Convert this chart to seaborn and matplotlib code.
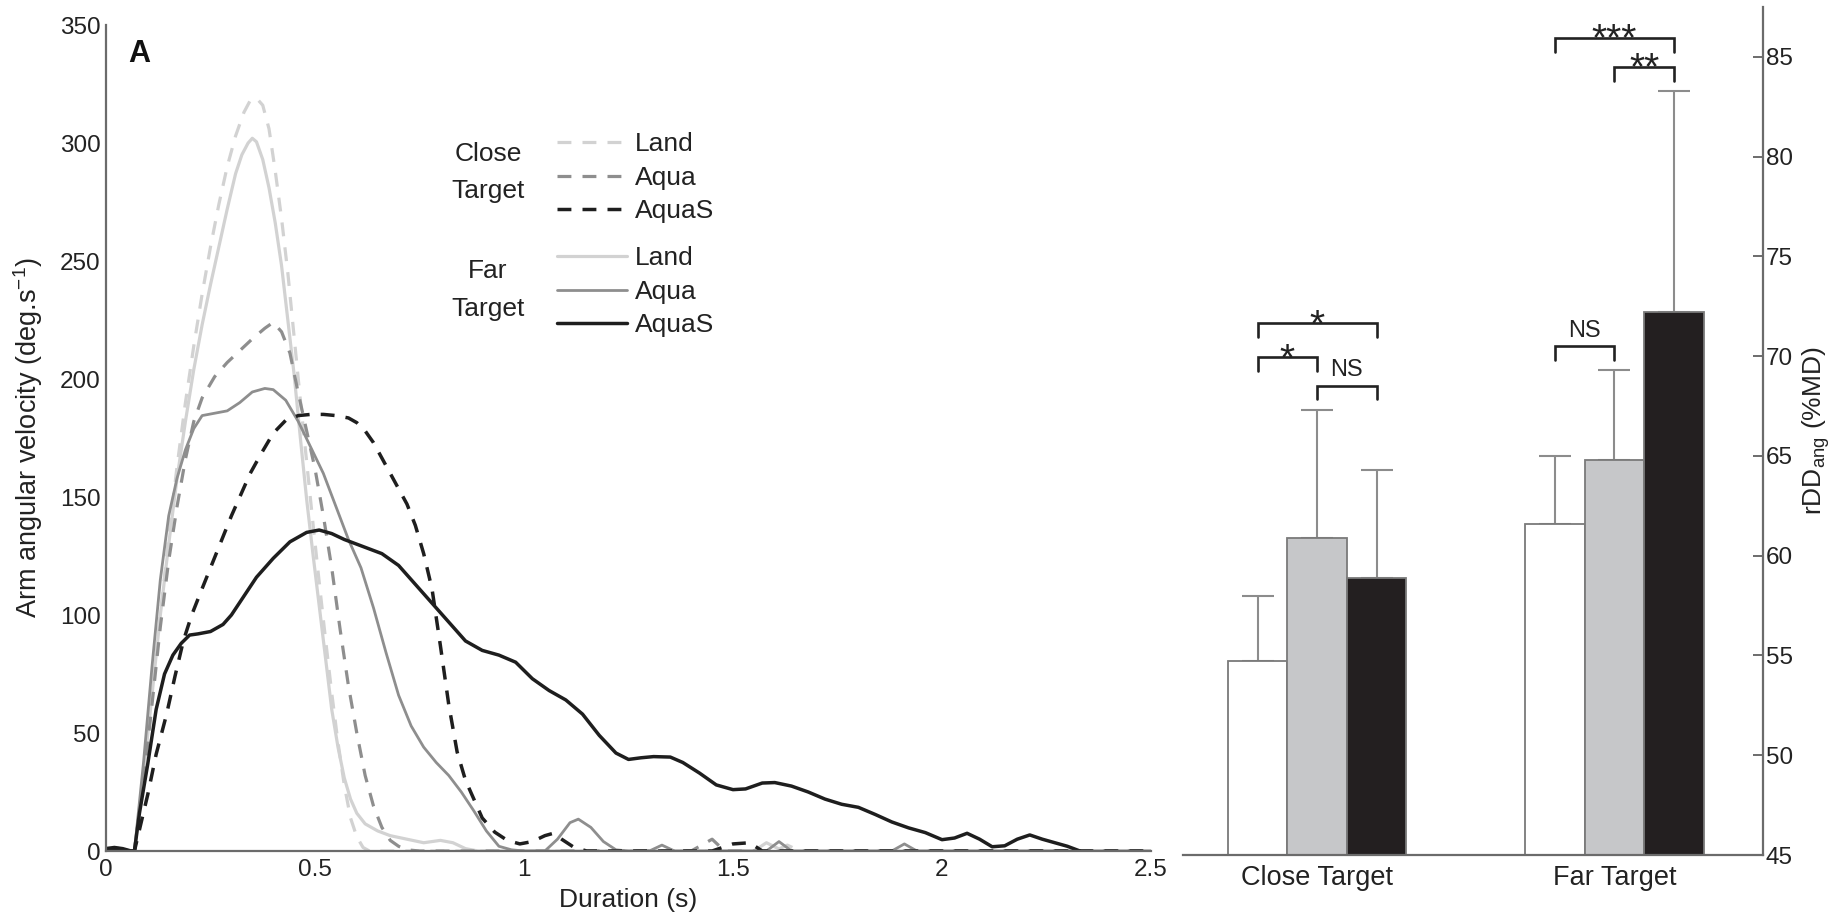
import matplotlib
matplotlib.use("Agg")
import matplotlib.pyplot as plt
import numpy as np
import pandas as pd
import seaborn as sns

# ---------------- Arm angular velocity profiles (s, deg/s) ----------------
close_land_t = [0, 0.03, 0.06, 0.068, 0.09, 0.11, 0.13, 0.15, 0.17, 0.19, 0.21, 0.23, 0.25,
                0.27, 0.29, 0.31, 0.33, 0.345, 0.36, 0.375, 0.39, 0.405, 0.42, 0.435, 0.45,
                0.465, 0.48, 0.495, 0.51, 0.525, 0.54, 0.555, 0.57, 0.585, 0.60, 0.615, 0.63,
                1.60, 1.63, 1.66, 2.5]
close_land_v = [1, 1, 0, 0, 32, 65, 100, 133, 163, 190, 214, 236, 256,
                274, 290, 303, 313, 318, 319, 316, 306, 288, 268, 245, 218,
                191, 165, 139, 114, 90, 67, 46, 28, 14, 6, 1.5, 0,
                0, 2.5, 0, 0]

far_land_t = [0, 0.03, 0.06, 0.068, 0.09, 0.11, 0.13, 0.15, 0.17, 0.19, 0.21, 0.23, 0.25,
              0.27, 0.29, 0.31, 0.325, 0.34, 0.35, 0.36, 0.375, 0.39, 0.405, 0.42, 0.435,
              0.45, 0.465, 0.48, 0.495, 0.51, 0.525, 0.54, 0.555, 0.57, 0.585, 0.60, 0.62,
              0.65, 0.68, 0.72, 0.76, 0.80, 0.83, 0.86, 0.89, 1.55, 1.58, 1.62, 2.5]
far_land_v = [1, 1, 0, 0, 33, 66, 100, 130, 158, 182, 204, 223, 240,
              256, 272, 287, 295, 300, 302, 300.5, 293, 281, 266, 248, 225,
              202, 175, 149, 126, 104, 82, 60, 44, 31, 22, 16, 11.5,
              8.5, 6.5, 5, 3.5, 4.5, 3.5, 1, 0, 0, 3.5, 0, 0]

close_aqua_t = [0, 0.03, 0.06, 0.068, 0.09, 0.11, 0.13, 0.15, 0.17, 0.19, 0.21, 0.23, 0.26,
                0.29, 0.32, 0.35, 0.38, 0.40, 0.42, 0.44, 0.46, 0.48, 0.50, 0.52, 0.54,
                0.56, 0.58, 0.60, 0.62, 0.64, 0.66, 0.68, 0.70, 0.72, 0.75, 1.40, 1.45,
                1.48, 2.5]
close_aqua_v = [1, 1, 0, 0, 30, 62, 95, 123, 146, 166, 182, 192, 201,
                207, 212, 217, 221.5, 224, 220, 211, 194, 178, 162, 142, 120,
                94, 70, 50, 32, 19, 10, 4.5, 2, 0.5, 0, 0, 5,
                0, 0]

far_aqua_t = [0, 0.03, 0.06, 0.068, 0.09, 0.11, 0.13, 0.15, 0.17, 0.19, 0.21, 0.23, 0.26,
              0.29, 0.32, 0.35, 0.38, 0.40, 0.43, 0.46, 0.49, 0.52, 0.55, 0.58, 0.61,
              0.64, 0.67, 0.70, 0.73, 0.76, 0.79, 0.82, 0.85, 0.88, 0.91, 0.94, 0.97,
              1.00, 1.05, 1.08, 1.11, 1.13, 1.16, 1.19, 1.22, 1.25, 1.30, 1.33, 1.36,
              1.58, 1.61, 1.64, 1.88, 1.91, 1.94, 2.5]
far_aqua_v = [1, 1, 0, 0, 38, 78, 115, 142, 158, 170, 179, 184.5, 185.5,
              186.5, 190, 194.5, 196, 195.5, 191, 182, 171, 160, 146, 132, 120,
              103, 84, 66, 53, 44, 37.5, 32, 25, 17, 8.5, 2, 0.5,
              0, 0, 5, 12, 13.5, 10, 4, 0.5, 0, 0, 2.5, 0,
              0, 4, 0, 0, 3, 0, 0]

close_aquas_t = [0, 0.03, 0.06, 0.068, 0.08, 0.10, 0.12, 0.145, 0.165, 0.185, 0.205, 0.225,
                 0.25, 0.275, 0.30, 0.32, 0.345, 0.37, 0.40, 0.43, 0.46, 0.49, 0.52, 0.55,
                 0.58, 0.60, 0.62, 0.64, 0.66, 0.68, 0.70, 0.72, 0.74, 0.76, 0.78, 0.80,
                 0.82, 0.84, 0.86, 0.88, 0.90, 0.93, 0.96, 0.99, 1.02, 1.05, 1.07, 1.09,
                 1.12, 1.15, 1.45, 1.50, 1.54, 1.57, 2.5]
close_aquas_v = [1, 1, 0, 0, 9, 24, 41, 58, 74, 89, 100, 109,
                 120, 131, 142, 150, 160, 168, 177, 182.5, 184.5, 185, 185, 184.5,
                 183.5, 181.5, 178, 173, 166.5, 160, 153.5, 147, 138, 126, 111, 87,
                 62, 42, 30, 22, 14, 8, 4.5, 3, 4, 6.5, 7.5, 5,
                 1.5, 0, 0, 3, 3.5, 0, 0]

far_aquas_t = [0, 0.02, 0.04, 0.06, 0.068, 0.08, 0.10, 0.12, 0.14, 0.16, 0.18, 0.20, 0.22,
               0.25, 0.28, 0.30, 0.33, 0.36, 0.40, 0.44, 0.48, 0.51, 0.54, 0.57, 0.60,
               0.63, 0.66, 0.70, 0.74, 0.78, 0.82, 0.86, 0.90, 0.94, 0.98, 1.02, 1.06,
               1.10, 1.14, 1.18, 1.22, 1.25, 1.28, 1.31, 1.35, 1.38, 1.42, 1.46, 1.50,
               1.53, 1.57, 1.60, 1.64, 1.68, 1.72, 1.76, 1.80, 1.84, 1.88, 1.92, 1.96,
               2.00, 2.03, 2.06, 2.09, 2.12, 2.15, 2.18, 2.21, 2.24, 2.27, 2.30, 2.33]
far_aquas_v = [1, 1.5, 1, 0, 0, 16, 37, 60, 75, 83, 88, 91.5, 92,
               93, 96, 100, 108, 116, 124, 131, 135, 136, 134.5, 132, 130,
               128, 126, 121, 113, 105, 97, 89, 85, 83, 80, 73, 68,
               64, 58, 49, 41.5, 38.8, 39.5, 40, 39.8, 37.5, 33, 28, 26,
               26.3, 28.8, 29, 27.5, 25, 22, 19.8, 18.5, 15.5, 12.3, 9.8, 7.8,
               4.8, 5.5, 7.5, 5, 1.8, 2.2, 5, 6.8, 5, 3.5, 2, 0]

conditions = ["Land", "Aqua", "AquaS"]
targets = ["Close Target", "Far Target"]

# ---------------- rDD_ang bars (%MD), mean and upper SD ----------------
close_means = [54.7, 60.9, 58.9]
close_sd = [3.3, 6.4, 5.4]
far_means = [61.6, 64.8, 72.2]
far_sd = [3.4, 4.5, 11.1]

# significance brackets: (target index, condition a, condition b, level, label)
brackets = [
    (0, 0, 2, 71.64, "*"),
    (0, 0, 1, 69.94, "*"),
    (0, 1, 2, 68.53, "NS"),
    (1, 0, 1, 70.49, "NS"),
    (1, 0, 2, 85.94, "***"),
    (1, 1, 2, 84.49, "**"),
]

# ---------------- style ----------------
sns.set_style("white")
plt.rcParams.update({
    "font.family": ["Liberation Sans", "DejaVu Sans"],
    "lines.scale_dashes": False,
    "text.color": "#222222",
    "axes.labelcolor": "#222222",
    "xtick.color": "#6b6b6b",
    "ytick.color": "#6b6b6b",
    "xtick.labelcolor": "#222222",
    "ytick.labelcolor": "#222222",
})

LIGHT, MID, DARK = "#d2d2d2", "#8e8e8e", "#1e1e1e"
DASH = (0, (10, 8))
SPINE = "#6b6b6b"

W, H = 1833, 914
fig = plt.figure(figsize=(W / 100, H / 100), dpi=100)
ax = fig.add_axes([106 / W, 63 / H, 1045 / W, 826 / H])
ax2 = fig.add_axes([1183 / W, 59 / H, 580 / W, 848 / H])

# ---------------- left panel: velocity profiles ----------------
series = [
    (close_land_t, close_land_v, LIGHT, DASH, 2.3),
    (far_land_t, far_land_v, LIGHT, "-", 2.3),
    (close_aqua_t, close_aqua_v, MID, DASH, 2.3),
    (far_aqua_t, far_aqua_v, MID, "-", 2.0),
    (close_aquas_t, close_aquas_v, DARK, DASH, 2.5),
    (far_aquas_t, far_aquas_v, DARK, "-", 2.5),
]
handles = []
for t, v, col, ls, lw in series:
    sns.lineplot(x=t, y=v, ax=ax, color=col, linestyle=ls, linewidth=lw,
                 estimator=None, sort=False)
    handles.append(ax.lines[-1])

ax.set_xlim(0, 2.5)
ax.set_ylim(0, 350)
ax.set_xticks(np.arange(0, 2.51, 0.5))
ax.set_xticklabels(["0", "0.5", "1", "1.5", "2", "2.5"])
ax.set_yticks(np.arange(0, 351, 50))
for s in ["top", "right"]:
    ax.spines[s].set_visible(False)
for s in ["left", "bottom"]:
    ax.spines[s].set_color(SPINE)
    ax.spines[s].set_linewidth(1.6)
ax.tick_params(axis="both", direction="in", length=7, width=1.4, labelsize=17.5)
ax.tick_params(axis="x", pad=6)
ax.tick_params(axis="y", pad=4)
ax.set_xlabel("Duration (s)", fontsize=19, labelpad=5)
ax.set_ylabel(r"Arm angular velocity (deg.s$^{\mathregular{-1}}$)", fontsize=19.5)
ax.yaxis.set_label_coords(-0.058, 0.5)

ax.text(0.021, 0.955, "A", transform=ax.transAxes, fontsize=22, fontweight="bold",
        ha="left", va="baseline", color="#111111")

leg_kw = dict(loc="upper left", frameon=False, fontsize=19, handlelength=2.65,
              handletextpad=0.3, labelspacing=0.36, borderpad=0, borderaxespad=0)
leg1 = ax.legend(handles=handles[0::2], labels=conditions, bbox_to_anchor=(0.4316, 0.870), **leg_kw)
ax.add_artist(leg1)
ax.legend(handles=handles[1::2], labels=conditions, bbox_to_anchor=(0.4316, 0.732), **leg_kw)
ax.text(0.3656, 0.8214, "Close\nTarget", transform=ax.transAxes, fontsize=19,
        ha="center", va="center", linespacing=1.7)
ax.text(0.3656, 0.679, "Far\nTarget", transform=ax.transAxes, fontsize=19,
        ha="center", va="center", linespacing=1.7)

# ---------------- right panel: rDD_ang bars ----------------
df = pd.DataFrame({
    "target": np.repeat(targets, len(conditions)),
    "condition": conditions * len(targets),
    "value": close_means + far_means,
    "sd": close_sd + far_sd,
})
bar_colors = {"Land": "#ffffff", "Aqua": "#c6c7c9", "AquaS": "#231f20"}
sns.barplot(data=df, x="target", y="value", hue="condition", order=targets,
            hue_order=conditions, palette=bar_colors, saturation=1, width=0.6,
            edgecolor="#7a7a7a", linewidth=1.3, errorbar=None, legend=False, ax=ax2)

bars = sorted([p for p in ax2.patches], key=lambda p: p.get_x())
centers = [p.get_x() + p.get_width() / 2 for p in bars]
tops = [p.get_y() + p.get_height() for p in bars]
ax2.errorbar(centers, tops, yerr=[np.zeros(len(tops)), df["sd"].values], fmt="none",
             ecolor="#8c8c8c", elinewidth=1.5, capsize=11.5, capthick=1.5, zorder=0.8)

leg_drop = 0.7
for ti, a, b, lvl, lab in brackets:
    xa, xb = centers[ti * 3 + a], centers[ti * 3 + b]
    ax2.plot([xa, xa, xb, xb], [lvl - leg_drop, lvl, lvl, lvl - leg_drop],
             color="#222222", lw=1.9, solid_joinstyle="miter", clip_on=False)
    xm = (xa + xb) / 2
    if lab == "NS":
        ax2.annotate(lab, (xm, lvl), xytext=(0, 6.5), textcoords="offset points",
                     ha="center", va="baseline", fontsize=17, annotation_clip=False)
    else:
        ax2.annotate(lab, (xm, lvl), xytext=(0, -9), textcoords="offset points",
                     ha="center", va="baseline", fontsize=28, annotation_clip=False)

ax2.set_xlim(-0.451, 1.5)
ax2.set_ylim(45, 87.5)
ax2.set_axisbelow(True)
ax2.set_xticks([0, 0.5, 1])
ax2.set_xticklabels(["Close Target", "", "Far Target"], fontsize=19.5)
ax2.set_xlabel("")
ax2.yaxis.tick_right()
ax2.yaxis.set_label_position("right")
ax2.set_yticks(np.arange(45, 86, 5))
for s in ["top", "left"]:
    ax2.spines[s].set_visible(False)
for s in ["right", "bottom"]:
    ax2.spines[s].set_color(SPINE)
    ax2.spines[s].set_linewidth(1.6)
ax2.tick_params(axis="both", direction="in", length=7, width=1.4)
ax2.tick_params(axis="y", labelsize=17.5, pad=2)
ax2.tick_params(axis="x", pad=7)
ax2.set_ylabel(r"rDD$_{\mathregular{ang}}$ (%MD)", fontsize=19, rotation=90)
ax2.yaxis.set_label_coords(1.064, 0.5)

fig.savefig("out.png", dpi=100, facecolor="white")
